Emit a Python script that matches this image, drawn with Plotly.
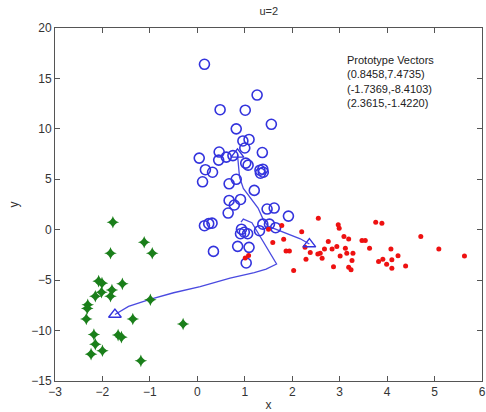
import plotly.graph_objects as go

# Cluster 1 (blue circles)
blue_x = [0.15, 1.26, 0.48, 1.01, 1.56, 0.82, 0.96, 1.09, 1.00, 1.37, 0.04, 0.46, 0.45, 0.61,
          0.75, 1.02, 1.07, 1.32, 1.38, 1.33, 1.39, 0.17, 0.32, 0.11, 0.67, 0.82, 1.20, 0.67,
          0.91, 0.78, 1.47, 1.62, 1.92, 0.65, 0.15, 0.24, 0.31, 0.93, 0.91, 1.06, 1.31, 1.38,
          1.52, 1.65, 0.34, 0.85, 1.09, 1.03, 0.99]
blue_y = [16.4, 13.35, 11.9, 11.85, 10.45, 10.0, 8.8, 8.95, 8.1, 7.65, 7.1, 7.7, 6.9, 7.2,
          7.35, 6.6, 6.4, 5.9, 6.0, 5.6, 5.7, 5.95, 5.7, 4.75, 4.55, 5.0, 3.9, 2.9,
          3.0, 2.45, 2.05, 2.15, 1.35, 1.65, 0.4, 0.6, 0.65, 0.05, -0.4, -0.4, -0.1, 0.55,
          0.55, 0.2, -2.15, -1.65, -1.75, -3.3, -0.25]

# Cluster 2 (green stars)
green_x = [-1.78, -1.12, -1.83, -0.95, -2.08, -2.01, -1.58, -1.80, -2.02, -2.15, -1.83, -0.99,
           -2.31, -2.32, -2.34, -1.36, -0.30, -2.18, -1.67, -1.60, -2.15, -2.00, -2.24, -1.19]
green_y = [0.74, -1.24, -2.33, -2.33, -5.1, -5.3, -5.37, -5.97, -6.2, -6.6, -6.6, -6.95,
           -7.45, -7.8, -8.85, -8.85, -9.35, -10.4, -10.45, -10.65, -11.35, -12.0, -12.34, -13.0]

# Cluster 3 (red dots)
red_x = [2.55, 1.78, 2.20, 2.97, 2.99, 3.76, 3.89, 4.71, 3.09, 3.19, 2.76, 3.47, 3.54, 1.82,
         1.59, 1.87, 1.94, 2.27, 2.68, 2.84, 2.94, 3.12, 3.63, 4.08, 5.09, 5.63, 2.38, 2.54,
         2.59, 2.29, 2.63, 3.01, 3.15, 3.28, 3.26, 3.82, 3.91, 4.10, 4.23, 3.99, 4.10, 4.39,
         2.87, 3.19, 3.24, 2.03, 1.01, 1.08, 1.50]
red_y = [1.14, 0.41, -0.19, 0.48, 0.15, 0.74, 0.64, -0.68, -0.68, -0.91, -1.18, -1.08, -1.08, -0.94,
         -1.28, -2.1, -2.1, -1.74, -1.9, -1.9, -1.67, -1.84, -1.84, -1.9, -1.9, -2.6, -2.27, -2.4,
         -2.33, -2.93, -2.83, -2.6, -2.33, -2.33, -3.06, -3.16, -2.92, -2.99, -2.57, -3.42, -3.82, -3.59,
         -3.66, -3.72, -3.98, -4.05, -2.8, -2.55, 0.05]

# Prototype vectors
proto_x = [0.8458, -1.7369, 2.3615]
proto_y = [7.4735, -8.4103, -1.4220]

# Prototype trajectories
pathA_x = [0.8458, 0.86, 0.89, 0.97, 1.12, 1.28, 1.39, 1.49, 2.17, 2.3615]
pathA_y = [7.4735, 6.4, 5.2, 4.1, 3.15, 2.15, 1.0, 0.35, -0.9, -1.4220]
pathB_x = [-1.7369, -1.45, -1.0, -0.5, 0.06, 0.69, 1.2, 1.45, 1.67, 1.15, 0.97, 0.92]
pathB_y = [-8.4103, -7.6, -6.9, -6.25, -5.65, -4.8, -4.25, -3.9, -3.4, 0.7, 1.05, 0.75]

title_text = "u=2"
legend_lines = ["Prototype Vectors", "(0.8458,7.4735)", "(-1.7369,-8.4103)", "(2.3615,-1.4220)"]

FONT = "Liberation Sans, Arial, sans-serif"
fig = go.Figure()
fig.add_trace(go.Scatter(x=pathA_x, y=pathA_y, mode="lines",
                         line=dict(color="#4a4ae0", width=1.3), hoverinfo="skip"))
fig.add_trace(go.Scatter(x=pathB_x, y=pathB_y, mode="lines",
                         line=dict(color="#4a4ae0", width=1.3), hoverinfo="skip"))
fig.add_trace(go.Scatter(x=blue_x, y=blue_y, mode="markers",
                         marker=dict(symbol="circle-open", size=10, color="#3333dd",
                                     line=dict(width=1.6))))
fig.add_trace(go.Scatter(x=green_x, y=green_y, mode="markers",
                         marker=dict(symbol="star-diamond", size=9, color="#1a7f1a",
                                     line=dict(width=0))))
fig.add_trace(go.Scatter(x=red_x, y=red_y, mode="markers",
                         marker=dict(symbol="circle", size=5, color="#ee1111")))
fig.add_trace(go.Scatter(x=proto_x, y=proto_y, mode="markers",
                         marker=dict(symbol="triangle-up-open", size=11, color="#3333dd",
                                     line=dict(width=1.4))))

fig.add_annotation(x=3.12, y=17.6, xref="x", yref="y", xanchor="left", yanchor="top",
                   align="left", showarrow=False, text="<br>".join(legend_lines),
                   font=dict(family=FONT, size=11, color="#222"))

axis_common = dict(showgrid=False, zeroline=False, mirror="ticks", ticks="inside",
                   ticklen=5, tickcolor="#555", linecolor="#555", linewidth=1,
                   showline=True, automargin=False,
                   tickfont=dict(family=FONT, size=12, color="#333"))
fig.update_xaxes(range=[-3, 6], dtick=1, title=dict(text="x", standoff=7,
                 font=dict(family=FONT, size=12, color="#333")), **axis_common)
fig.update_yaxes(range=[-15, 20], dtick=5, title=dict(text="y", standoff=10,
                 font=dict(family=FONT, size=12, color="#333")), **axis_common)

fig.update_layout(width=486, height=412, showlegend=False,
                  plot_bgcolor="white", paper_bgcolor="white",
                  margin=dict(l=55, r=4, t=28, b=31, autoexpand=False),
                  title=dict(text=title_text, x=0.553, xanchor="center", y=0.972, yanchor="middle",
                             font=dict(family=FONT, size=11, color="#333")))
fig.write_html("out.html", config={"displayModeBar": False},
               post_script="document.body.style.margin='0';document.body.style.overflow='hidden';")
